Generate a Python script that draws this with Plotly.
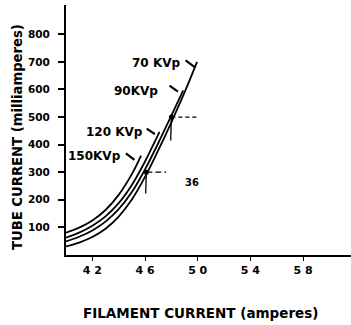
import plotly.graph_objects as go

# Tube current vs filament current for four kilovoltage settings
kv_labels = ["70 KVp", "90KVp", "120 KVp", "150KVp"]

filament_70 = [40, 41, 42, 43, 44, 45, 46, 47, 48, 49, 49.95]
tube_70 = [31, 45, 65, 95, 139, 201, 283, 379, 481, 589, 700]

filament_90 = [40, 41, 42, 43, 44, 45, 46, 47, 48, 48.9]
tube_90 = [49, 66, 89, 121, 166, 228, 310, 405, 505, 597]

filament_120 = [40, 41, 42, 43, 44, 45, 46, 47, 47.1]
tube_120 = [63, 81, 106, 140, 188, 254, 339, 436, 446]

filament_150 = [40, 41, 42, 43, 44, 45, 45.7]
tube_150 = [81, 99, 125, 163, 218, 293, 360]

x_ticks = [42, 46, 50, 54, 58]
x_tick_text = ["4 2", "4 6", "5 0", "5 4", "5 8"]
y_ticks = [100, 200, 300, 400, 500, 600, 700, 800]

# operating points marked with reference lines
op_x = [48.0, 46.1]
op_y = [500, 300]

FONT = "DejaVu Sans"

fig = go.Figure()

for fx, ty in [(filament_70, tube_70), (filament_90, tube_90),
               (filament_120, tube_120), (filament_150, tube_150)]:
    fig.add_trace(go.Scatter(
        x=fx, y=ty, mode="lines",
        line=dict(color="black", width=1.8, shape="spline", smoothing=1.0),
        showlegend=False, hoverinfo="skip"))

# curve labels: (text right edge x, y, arrow start, arrow end)
label_pos = [
    (48.80, 695, (49.08, 705), (49.80, 680)),
    (47.15, 596, (47.86, 614), (48.50, 592)),
    (46.00, 444, (46.13, 458), (46.75, 438)),
    (44.30, 360, (44.55, 368), (45.20, 345)),
]
for text, (lx, ly, a0, a1) in zip(kv_labels, label_pos):
    fig.add_annotation(x=lx, y=ly, text=text, showarrow=False,
                       xanchor="right", yanchor="middle",
                       font=dict(family=FONT, size=12, color="black", weight="bold"))
    fig.add_shape(type="line", x0=a0[0], y0=a0[1], x1=a1[0], y1=a1[1],
                  line=dict(color="black", width=2.2))

# reference lines at operating points
fig.add_shape(type="line", x0=op_x[0], y0=op_y[0], x1=49.9, y1=op_y[0],
              line=dict(color="black", width=1.3, dash="4px,3px"))
fig.add_shape(type="line", x0=op_x[0], y0=op_y[0], x1=op_x[0] - 0.05, y1=415,
              line=dict(color="black", width=1.3))
fig.add_shape(type="line", x0=op_x[1], y0=op_y[1], x1=47.6, y1=op_y[1],
              line=dict(color="black", width=1.3, dash="6px,3px"))
fig.add_shape(type="line", x0=op_x[1], y0=op_y[1], x1=op_x[1] - 0.05, y1=223,
              line=dict(color="black", width=1.3))
fig.add_trace(go.Scatter(x=op_x, y=op_y, mode="markers",
                         marker=dict(color="black", size=5, symbol="circle"),
                         showlegend=False, hoverinfo="skip"))

fig.add_annotation(x=49.6, y=263, text="36", showarrow=False,
                   font=dict(family=FONT, size=10, color="black", weight="bold"))

# axis titles
fig.add_annotation(x=0.5, y=0, xref="paper", yref="paper",
                   text="FILAMENT CURRENT (amperes)", showarrow=False,
                   xanchor="center", yanchor="middle", yshift=-58, xshift=-8,
                   font=dict(family=FONT, size=13.5, color="black", weight="bold"))
fig.add_annotation(x=0, y=0.5, xref="paper", yref="paper",
                   text="TUBE CURRENT (milliamperes)", showarrow=False,
                   textangle=-90, xanchor="center", yanchor="middle",
                   xshift=-49, yshift=-7,
                   font=dict(family=FONT, size=13.2, color="black", weight="bold"))

fig.update_xaxes(range=[40, 61.64], tickvals=x_ticks, ticktext=x_tick_text,
                 showline=True, linecolor="black", linewidth=1.5,
                 ticks="outside", ticklen=4, tickwidth=1.2, tickcolor="black",
                 showgrid=False, zeroline=False,
                 tickfont=dict(family=FONT, size=11, color="black", weight="bold"))
fig.update_yaxes(range=[0, 906], tickvals=y_ticks,
                 showline=True, linecolor="black", linewidth=2,
                 ticks="outside", ticklen=6, tickwidth=1.5, tickcolor="black",
                 ticklabelstandoff=6,
                 showgrid=False, zeroline=False,
                 tickfont=dict(family=FONT, size=10.5, color="black", weight="bold"))

fig.update_layout(width=351, height=325,
                  margin=dict(l=66, r=0, t=5, b=70),
                  plot_bgcolor="white", paper_bgcolor="white")

fig.write_html("out.html")
